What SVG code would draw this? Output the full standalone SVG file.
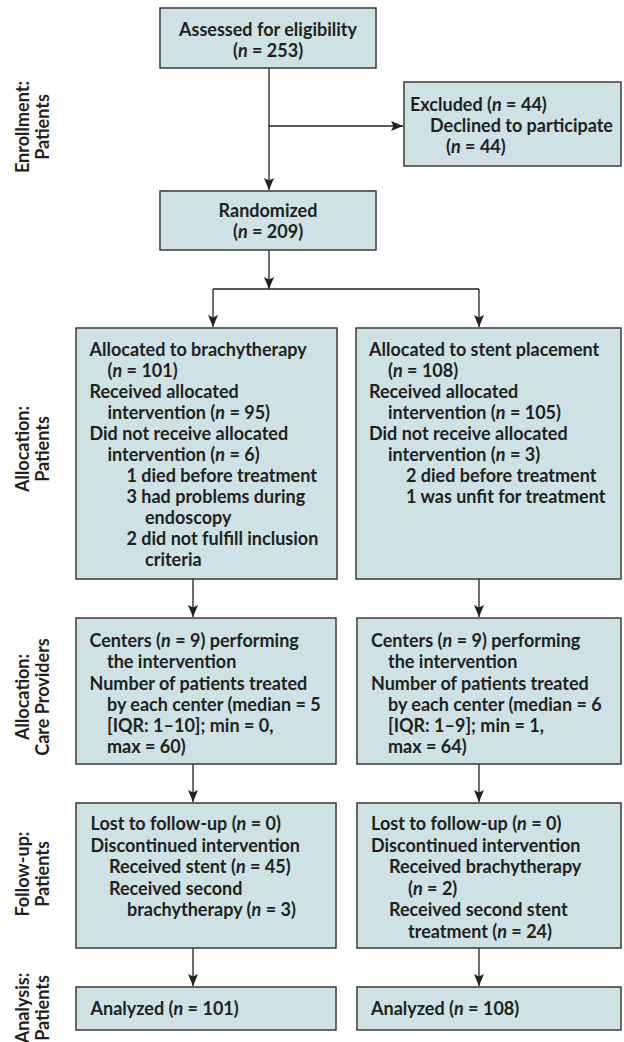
<svg xmlns="http://www.w3.org/2000/svg" width="624" height="1042" viewBox="0 0 624 1042">
<defs>
<marker id="ah" viewBox="0 0 12 10" refX="12" refY="5" markerWidth="12" markerHeight="10" markerUnits="userSpaceOnUse" orient="auto">
<path d="M0,0 L12,5 L0,10 L2.5,5 z" fill="#231f20"/>
</marker>
<style>
.box{fill:#cee2e5;stroke:#3a3a3a;stroke-width:1.5}
.t{font-family:Lato,"Liberation Sans",sans-serif;font-size:18px;font-weight:bold;fill:#231f20}
.c{text-anchor:middle}
.lbl{font-family:Lato,"Liberation Sans",sans-serif;font-size:18px;font-weight:bold;fill:#231f20;text-anchor:middle}
.ln{fill:none;stroke:#231f20;stroke-width:1.3}
.a{marker-end:url(#ah)}
.i{font-style:italic}
</style>
</defs>
<rect width="624" height="1042" fill="#ffffff"/>

<g id="labels">
<text class="lbl" transform="translate(29,127) rotate(-90)">Enrollment:</text>
<text class="lbl" transform="translate(49,127) rotate(-90)">Patients</text>
<text class="lbl" transform="translate(29,449) rotate(-90)">Allocation:</text>
<text class="lbl" transform="translate(49,449) rotate(-90)">Patients</text>
<text class="lbl" transform="translate(29,697) rotate(-90)">Allocation:</text>
<text class="lbl" transform="translate(49,697) rotate(-90)">Care Providers</text>
<text class="lbl" transform="translate(29,874) rotate(-90)">Follow-up:</text>
<text class="lbl" transform="translate(49,874) rotate(-90)">Patients</text>
<text class="lbl" transform="translate(29,1008) rotate(-90)">Analysis:</text>
<text class="lbl" transform="translate(49,1008) rotate(-90)">Patients</text>
</g>

<g id="connectors">
<path class="ln a" d="M269,68 V190"/>
<path class="ln a" d="M269,126 H403"/>
<path class="ln a" d="M269,250 V289"/>
<path class="ln" d="M213,289 H479"/>
<path class="ln a" d="M213,289 V327"/>
<path class="ln a" d="M479,289 V327"/>
<path class="ln a" d="M193,579 V617"/>
<path class="ln a" d="M479,579 V617"/>
<path class="ln a" d="M193,764 V802"/>
<path class="ln a" d="M479,764 V802"/>
<path class="ln a" d="M193,948 V986"/>
<path class="ln a" d="M479,948 V986"/>
</g>

<g id="assessed">
<rect class="box" x="160" y="8" width="216" height="60"/>
<text class="t c" x="268" y="36">Assessed for eligibility</text>
<text class="t c" x="268" y="57">(<tspan class="i">n</tspan> = 253)</text>
</g>

<g id="excluded">
<rect class="box" x="404" y="82" width="217" height="84"/>
<text class="t" x="410" y="111">Excluded (<tspan class="i">n</tspan> = 44)</text>
<text class="t" x="430" y="132">Declined to participate</text>
<text class="t" x="446" y="153">(<tspan class="i">n</tspan> = 44)</text>
</g>

<g id="randomized">
<rect class="box" x="160" y="191" width="216" height="59"/>
<text class="t c" x="268" y="217">Randomized</text>
<text class="t c" x="268" y="238">(<tspan class="i">n</tspan> = 209)</text>
</g>

<g id="alloc-brachy">
<rect class="box" x="76" y="328" width="261" height="251"/>
<text class="t" x="89.5" y="356">Allocated to brachytherapy</text>
<text class="t" x="107.5" y="377">(<tspan class="i">n</tspan> = 101)</text>
<text class="t" x="89.5" y="398">Received allocated</text>
<text class="t" x="107.5" y="419">intervention (<tspan class="i">n</tspan> = 95)</text>
<text class="t" x="89.5" y="440">Did not receive allocated</text>
<text class="t" x="107.5" y="461">intervention (<tspan class="i">n</tspan> = 6)</text>
<text class="t" x="126.5" y="482">1 died before treatment</text>
<text class="t" x="126.5" y="503">3 had problems during</text>
<text class="t" x="145" y="524">endoscopy</text>
<text class="t" x="126.5" y="545">2 did not fulfill inclusion</text>
<text class="t" x="145" y="566">criteria</text>
</g>

<g id="alloc-stent">
<rect class="box" x="356" y="328" width="265" height="251"/>
<text class="t" x="369" y="356">Allocated to stent placement</text>
<text class="t" x="388" y="377">(<tspan class="i">n</tspan> = 108)</text>
<text class="t" x="369" y="398">Received allocated</text>
<text class="t" x="388" y="419">intervention (<tspan class="i">n</tspan> = 105)</text>
<text class="t" x="369" y="440">Did not receive allocated</text>
<text class="t" x="388" y="461">intervention (<tspan class="i">n</tspan> = 3)</text>
<text class="t" x="406" y="482">2 died before treatment</text>
<text class="t" x="406" y="503">1 was unfit for treatment</text>
</g>

<g id="centers-brachy">
<rect class="box" x="76" y="618" width="260" height="146"/>
<text class="t" x="89.5" y="647">Centers (<tspan class="i">n</tspan> = 9) performing</text>
<text class="t" x="107" y="668">the intervention</text>
<text class="t" x="89.5" y="689.5">Number of patients treated</text>
<text class="t" x="107" y="711">by each center (median = 5</text>
<text class="t" x="107" y="732">[IQR: 1–10]; min = 0,</text>
<text class="t" x="107" y="753">max = 60)</text>
</g>

<g id="centers-stent">
<rect class="box" x="357" y="618" width="264" height="146"/>
<text class="t" x="371" y="647">Centers (<tspan class="i">n</tspan> = 9) performing</text>
<text class="t" x="388" y="668">the intervention</text>
<text class="t" x="371" y="689.5">Number of patients treated</text>
<text class="t" x="388" y="711">by each center (median = 6</text>
<text class="t" x="388" y="732">[IQR: 1–9]; min = 1,</text>
<text class="t" x="388" y="753">max = 64)</text>
</g>

<g id="followup-brachy">
<rect class="box" x="76" y="803" width="260" height="145"/>
<text class="t" x="90.5" y="830">Lost to follow-up (<tspan class="i">n</tspan> = 0)</text>
<text class="t" x="90.5" y="851.5">Discontinued intervention</text>
<text class="t" x="109" y="873">Received stent (<tspan class="i">n</tspan> = 45)</text>
<text class="t" x="109" y="894.5">Received second</text>
<text class="t" x="127" y="916">brachytherapy (<tspan class="i">n</tspan> = 3)</text>
</g>

<g id="followup-stent">
<rect class="box" x="357" y="803" width="264" height="145"/>
<text class="t" x="371" y="830">Lost to follow-up (<tspan class="i">n</tspan> = 0)</text>
<text class="t" x="371" y="851.5">Discontinued intervention</text>
<text class="t" x="389" y="873">Received brachytherapy</text>
<text class="t" x="408" y="894.5">(<tspan class="i">n</tspan> = 2)</text>
<text class="t" x="389" y="916">Received second stent</text>
<text class="t" x="408" y="937.5">treatment (<tspan class="i">n</tspan> = 24)</text>
</g>

<g id="analyzed-brachy">
<rect class="box" x="76" y="987" width="260" height="43"/>
<text class="t" x="90.5" y="1015">Analyzed (<tspan class="i">n</tspan> = 101)</text>
</g>

<g id="analyzed-stent">
<rect class="box" x="357" y="987" width="264" height="43"/>
<text class="t" x="371" y="1015">Analyzed (<tspan class="i">n</tspan> = 108)</text>
</g>
</svg>
